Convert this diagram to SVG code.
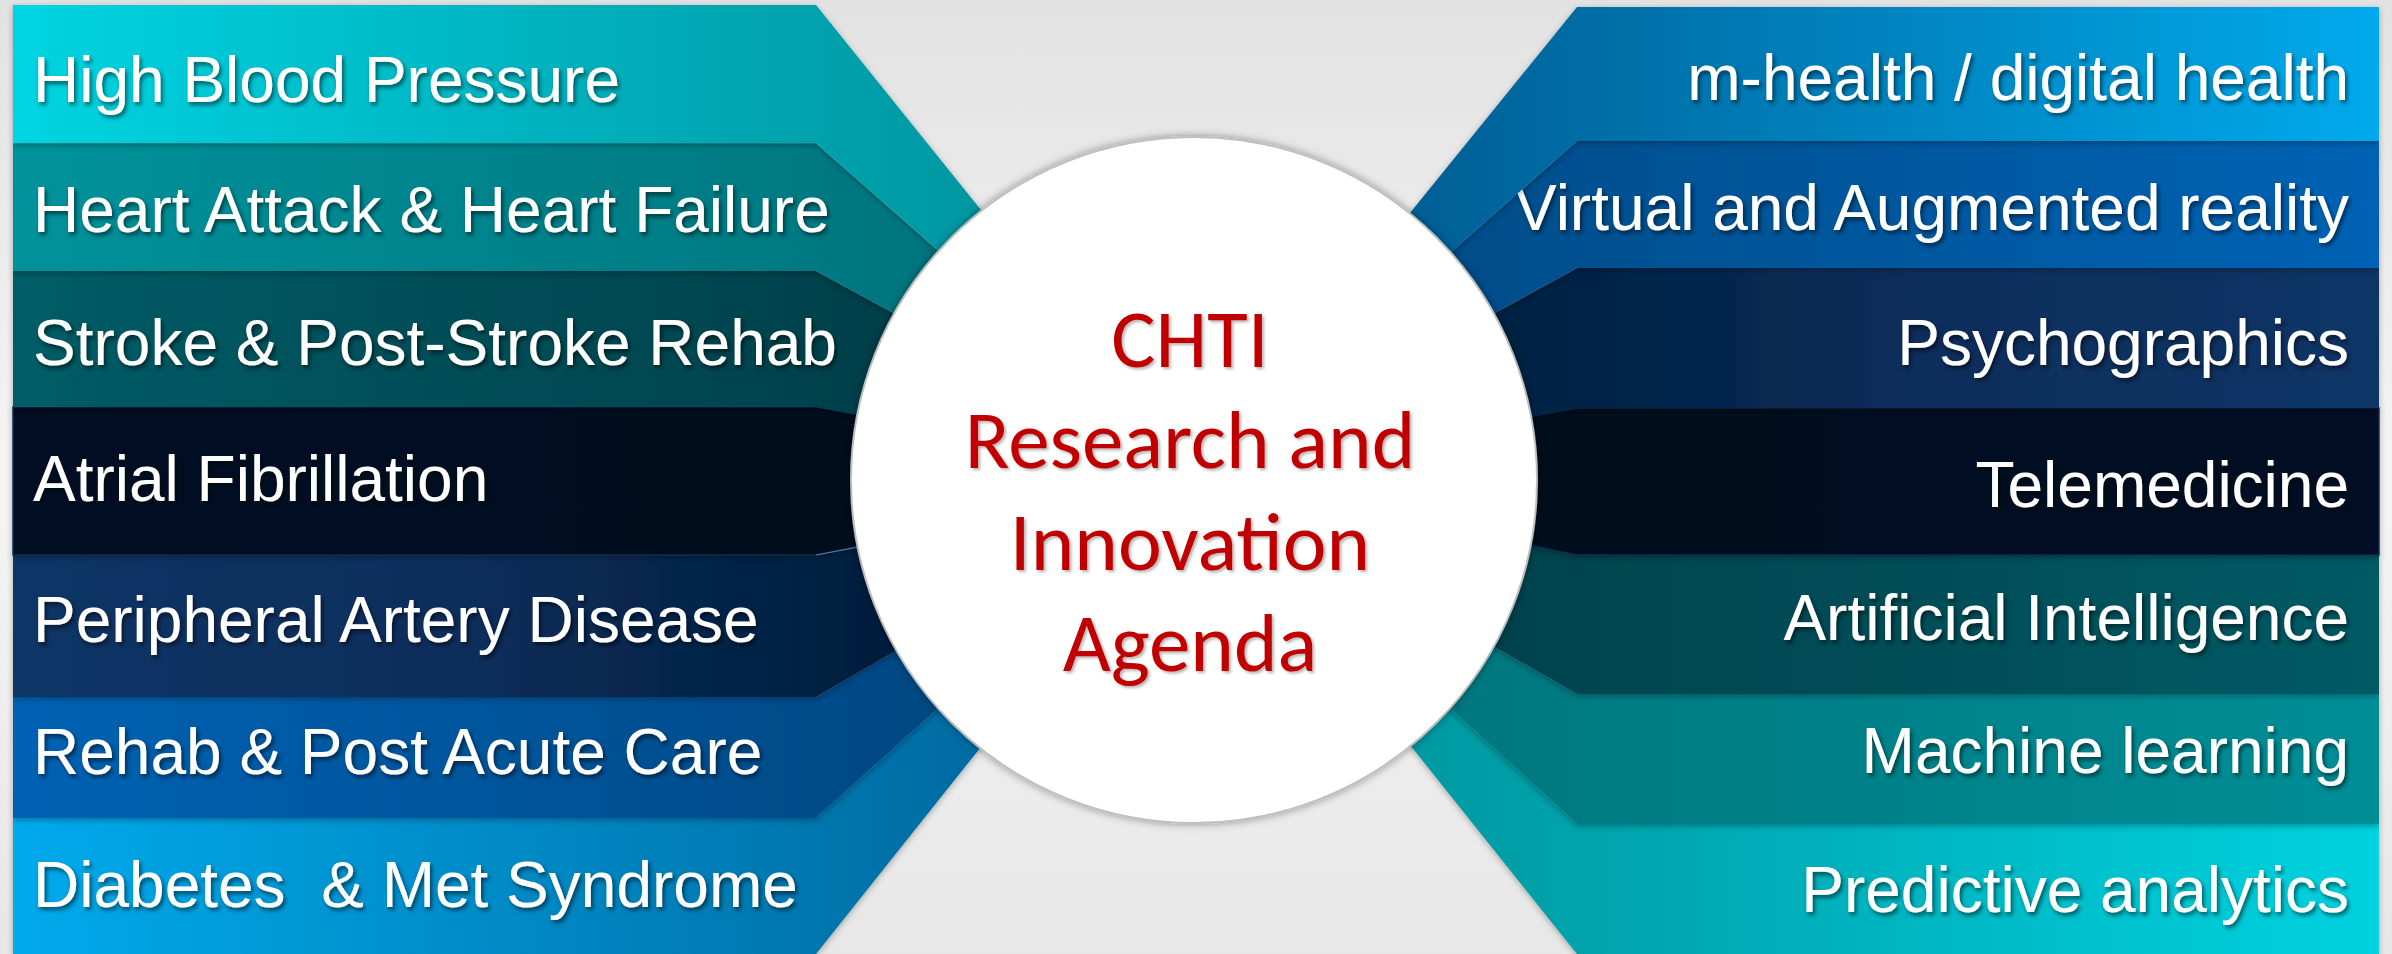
<svg xmlns="http://www.w3.org/2000/svg" width="2392" height="954" viewBox="0 0 2392 954">
  <defs>
    <style>
      .lbl { font-family: "Liberation Sans", Arial, sans-serif; font-size: 64px; fill: #ffffff; filter: url(#txtShadow); }
      .lft { text-anchor: start; }
      .rgt { text-anchor: end; }
      .band { filter: url(#bandShadow); }
      .ctr { font-family: "Carlito", "Lato", "Open Sans", sans-serif; font-size: 83px; fill: #c00000; text-anchor: middle; filter: url(#redShadow); }
    </style>
    <linearGradient id="bg" x1="0" y1="0" x2="0" y2="1">
      <stop offset="0" stop-color="#e2e2e2"/>
      <stop offset="0.5" stop-color="#f5f5f5"/>
      <stop offset="1" stop-color="#e7e7e7"/>
    </linearGradient>
    <!-- left side fills, run left to right -->
    <linearGradient id="gL1" gradientUnits="userSpaceOnUse" x1="13" y1="0" x2="1000" y2="0">
      <stop offset="0" stop-color="#00d4e2"/><stop offset="1" stop-color="#0096a0"/>
    </linearGradient>
    <linearGradient id="gL2" gradientUnits="userSpaceOnUse" x1="13" y1="0" x2="1000" y2="0">
      <stop offset="0" stop-color="#00929b"/><stop offset="1" stop-color="#00737c"/>
    </linearGradient>
    <linearGradient id="gL3" gradientUnits="userSpaceOnUse" x1="13" y1="0" x2="1000" y2="0">
      <stop offset="0" stop-color="#005c66"/><stop offset="1" stop-color="#003c46"/>
    </linearGradient>
    <linearGradient id="gL4" gradientUnits="userSpaceOnUse" x1="13" y1="0" x2="1000" y2="0">
      <stop offset="0" stop-color="#040f24"/><stop offset="1" stop-color="#020b1c"/>
    </linearGradient>
    <linearGradient id="gL5" gradientUnits="userSpaceOnUse" x1="13" y1="0" x2="1000" y2="0">
      <stop offset="0" stop-color="#0d3566"/><stop offset="0.45" stop-color="#0a2e5c"/><stop offset="1" stop-color="#001a34"/>
    </linearGradient>
    <linearGradient id="gL6" gradientUnits="userSpaceOnUse" x1="13" y1="0" x2="1000" y2="0">
      <stop offset="0" stop-color="#0062b4"/><stop offset="1" stop-color="#004680"/>
    </linearGradient>
    <linearGradient id="gL7" gradientUnits="userSpaceOnUse" x1="13" y1="0" x2="1000" y2="0">
      <stop offset="0" stop-color="#00aaec"/><stop offset="1" stop-color="#006aa0"/>
    </linearGradient>
    <!-- right side fills, run right to left -->
    <linearGradient id="gR1" gradientUnits="userSpaceOnUse" x1="2379" y1="0" x2="1400" y2="0">
      <stop offset="0" stop-color="#00aaec"/><stop offset="1" stop-color="#005e94"/>
    </linearGradient>
    <linearGradient id="gR2" gradientUnits="userSpaceOnUse" x1="2379" y1="0" x2="1400" y2="0">
      <stop offset="0" stop-color="#0062b4"/><stop offset="1" stop-color="#004c88"/>
    </linearGradient>
    <linearGradient id="gR3" gradientUnits="userSpaceOnUse" x1="2379" y1="0" x2="1400" y2="0">
      <stop offset="0" stop-color="#0d3566"/><stop offset="0.45" stop-color="#0a2e5c"/><stop offset="1" stop-color="#001e3c"/>
    </linearGradient>
    <linearGradient id="gR4" gradientUnits="userSpaceOnUse" x1="2379" y1="0" x2="1400" y2="0">
      <stop offset="0" stop-color="#040f24"/><stop offset="1" stop-color="#020b1c"/>
    </linearGradient>
    <linearGradient id="gR5" gradientUnits="userSpaceOnUse" x1="2379" y1="0" x2="1400" y2="0">
      <stop offset="0" stop-color="#005a64"/><stop offset="1" stop-color="#00404a"/>
    </linearGradient>
    <linearGradient id="gR6" gradientUnits="userSpaceOnUse" x1="2379" y1="0" x2="1400" y2="0">
      <stop offset="0" stop-color="#008e96"/><stop offset="1" stop-color="#00767e"/>
    </linearGradient>
    <linearGradient id="gR7" gradientUnits="userSpaceOnUse" x1="2379" y1="0" x2="1400" y2="0">
      <stop offset="0" stop-color="#00d2e0"/><stop offset="1" stop-color="#0098a0"/>
    </linearGradient>
    <filter id="txtShadow" x="-5%" y="-20%" width="110%" height="150%">
      <feDropShadow dx="2" dy="3" stdDeviation="2" flood-color="#000000" flood-opacity="0.55"/>
    </filter>
    <filter id="redShadow" x="-5%" y="-20%" width="110%" height="150%">
      <feDropShadow dx="2" dy="2" stdDeviation="1.5" flood-color="#000000" flood-opacity="0.3"/>
    </filter>
    <filter id="bandShadow" x="-5%" y="-10%" width="110%" height="130%">
      <feDropShadow dx="0" dy="2" stdDeviation="3" flood-color="#000000" flood-opacity="0.3"/>
    </filter>
    <filter id="discShadow" x="-10%" y="-10%" width="120%" height="120%">
      <feDropShadow dx="0" dy="0" stdDeviation="4" flood-color="#000000" flood-opacity="0.4"/>
    </filter>
  </defs>

  <!-- backdrop -->
  <rect x="0" y="0" width="2392" height="954" fill="url(#bg)"/>

  <!-- left column: clinical areas (drawn bottom-up so each casts onto the one below) -->
  <g id="left-diabetes" class="band">
    <polygon points="13,818 816,818 1196,477 816,954 13,954" fill="url(#gL7)"/>
    <text class="lbl lft" x="33" y="907" xml:space="preserve">Diabetes  &amp; Met Syndrome</text>
  </g>
  <g id="left-rehab" class="band">
    <polygon points="13,697 816,697 1196,477 816,818 13,818" fill="url(#gL6)"/>
    <text class="lbl lft" x="33" y="774">Rehab &amp; Post Acute Care</text>
  </g>
  <g id="left-pad" class="band">
    <polygon points="13,555 816,555 1196,477 816,697 13,697" fill="url(#gL5)"/>
    <text class="lbl lft" x="33" y="642">Peripheral Artery Disease</text>
  </g>
  <g id="left-afib" class="band">
    <polygon points="13,407 816,407 1196,477 816,555 13,555" fill="url(#gL4)" stroke="#0c2c52" stroke-width="1.5"/>
    <line x1="816" y1="555" x2="880" y2="543" stroke="#7fb8e0" stroke-width="1" opacity="0.6"/>
    <text class="lbl lft" x="33" y="501">Atrial Fibrillation</text>
  </g>
  <g id="left-stroke" class="band">
    <polygon points="13,271 816,271 1196,477 816,407 13,407" fill="url(#gL3)"/>
    <text class="lbl lft" x="33" y="365">Stroke &amp; Post-Stroke Rehab</text>
  </g>
  <g id="left-heart" class="band">
    <polygon points="13,143 816,143 1196,477 816,271 13,271" fill="url(#gL2)"/>
    <line x1="13" y1="143" x2="816" y2="143" stroke="#7fd0d6" stroke-width="1" opacity="0.6"/>
    <line x1="816" y1="143" x2="1000" y2="305" stroke="#7fd0d6" stroke-width="1" opacity="0.5"/>
    <text class="lbl lft" x="33" y="232">Heart Attack &amp; Heart Failure</text>
  </g>
  <g id="left-bp" class="band">
    <polygon points="13,5 816,5 1196,477 816,143 13,143" fill="url(#gL1)"/>
    <text class="lbl lft" x="33" y="102">High Blood Pressure</text>
  </g>

  <!-- right column: technologies -->
  <g id="right-predictive" class="band">
    <polygon points="2379,824 1577,824 1196,477 1577,954 2379,954" fill="url(#gR7)"/>
    <text class="lbl rgt" x="2349" y="912">Predictive analytics</text>
  </g>
  <g id="right-ml" class="band">
    <polygon points="2379,694 1577,694 1196,477 1577,824 2379,824" fill="url(#gR6)"/>
    <text class="lbl rgt" x="2349" y="773">Machine learning</text>
  </g>
  <g id="right-ai" class="band">
    <polygon points="2379,555 1577,555 1196,477 1577,694 2379,694" fill="url(#gR5)"/>
    <text class="lbl rgt" x="2349" y="640">Artificial Intelligence</text>
  </g>
  <g id="right-telemedicine" class="band">
    <polygon points="2379,408 1577,408 1196,477 1577,555 2379,555" fill="url(#gR4)" stroke="#0c2c52" stroke-width="1.5"/>
    <text class="lbl rgt" x="2349" y="507">Telemedicine</text>
  </g>
  <g id="right-psychographics" class="band">
    <polygon points="2379,268 1577,268 1196,477 1577,408 2379,408" fill="url(#gR3)"/>
    <text class="lbl rgt" x="2349" y="365">Psychographics</text>
  </g>
  <g id="right-vr" class="band">
    <polygon points="2379,141 1577,141 1196,477 1577,268 2379,268" fill="url(#gR2)"/>
    <text class="lbl rgt" x="2349" y="230">Virtual and Augmented reality</text>
  </g>
  <g id="right-mhealth" class="band">
    <polygon points="2379,7 1577,7 1196,477 1577,141 2379,141" fill="url(#gR1)"/>
    <text class="lbl rgt" x="2349" y="100">m-health / digital health</text>
  </g>

  <!-- central disc -->
  <g id="hub">
    <circle cx="1194" cy="480" r="343" fill="#ffffff" stroke="#bfbfbf" stroke-width="2" filter="url(#discShadow)"/>
    <text class="ctr" x="1190" y="367">CHTI</text>
    <text class="ctr" x="1190" y="468">Research and</text>
    <text class="ctr" x="1190" y="570">Innovation</text>
    <text class="ctr" x="1190" y="671">Agenda</text>
  </g>
</svg>
